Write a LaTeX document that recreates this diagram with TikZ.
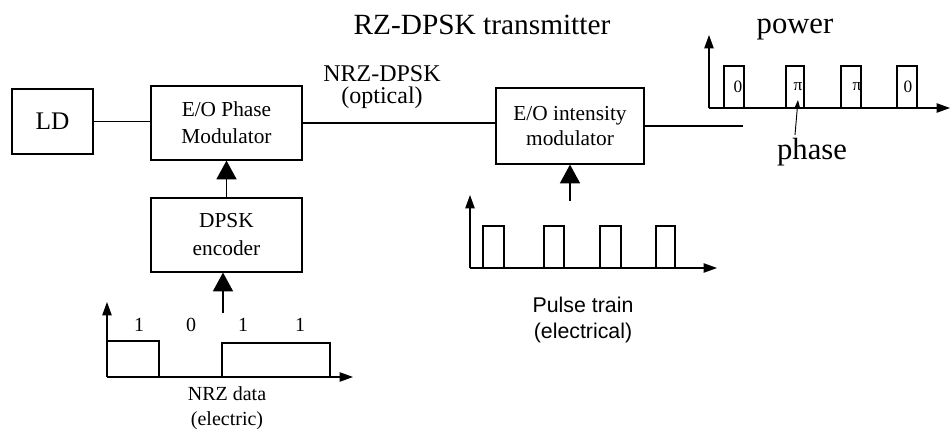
\documentclass[tikz,border=0pt]{standalone}
\usepackage{fontspec}
\setmainfont{Liberation Serif}
\newfontfamily\arialfont{Liberation Sans}
\usetikzlibrary{arrows.meta}
\begin{document}
\begin{tikzpicture}[x=0.75pt,y=-0.75pt,line join=miter,line width=0.9pt]
	\tikzset{blockbox/.style={draw,align=center,inner sep=1pt,font=\fontsize{16}{20}\selectfont},
		bigarrow/.style={-{Triangle[width=15pt,length=14pt]}},
		axisarrow/.style={-{Triangle[width=7pt,length=10pt]}},
		lab/.style={font=\fontsize{15}{19}\selectfont,align=center}}
	\useasboundingbox (0,0) rectangle (951,432);
	% Title
	\node[font=\fontsize{22}{24}\selectfont] (title) at (482,25) {RZ-DPSK transmitter};
	% Blocks
	\node[blockbox,minimum width=60.75pt,minimum height=48.75pt,font=\fontsize{19}{20}\selectfont] (ld) at (52.5,121.5) {LD};
	\node[blockbox,minimum width=113.25pt,minimum height=55.5pt] (pm) at (226.5,123) {E/O Phase\\Modulator};
	\node[blockbox,minimum width=113.25pt,minimum height=55.5pt,font=\fontsize{16}{21}\selectfont] (enc) at (226.5,235) {DPSK\\encoder};
	\node[blockbox,minimum width=111pt,minimum height=57pt,font=\fontsize{16}{19}\selectfont] (im) at (570,126) {E/O intensity\\modulator};
	% Connections
	\draw (ld.east) -- (ld.east -| pm.west);
	\draw (pm.east) -- (pm.east -| im.west);
	\coordinate (imout) at (743,127);
	\draw (im.east) -- (im.east -| imout);
	\node[font=\fontsize{18}{17}\selectfont,align=center] (nrzdpsk) at (382,87) {NRZ-DPSK\\(optical)};
	\draw[bigarrow] (enc.north) -- (pm.south);
	\coordinate (nrzin) at (223,313);
	\draw[bigarrow] (nrzin) -- (nrzin |- enc.south);
	\coordinate (ptin) at (570,201);
	\draw[bigarrow] (ptin) -- (ptin |- im.south);
	% NRZ data (electric)
	\draw[axisarrow] (107,377) -- (107,302);
	\draw[axisarrow] (107,377) -- (353,377);
	\draw (107,341) -- (159,341) -- (159,377);
	\draw (222,377) -- (222,343) -- (330,343) -- (330,377);
	\foreach \lx/\bit in {139/1,191/0,243/1,300/1}
		\node[font=\fontsize{15}{18}\selectfont] at (\lx,325) {\bit};
	\node[lab] (nrzlab) at (227,408) {NRZ data\\(electric)};
	% Pulse train (electrical)
	\draw[axisarrow] (470,268) -- (470,195);
	\draw[axisarrow] (470,268) -- (717,268);
	\foreach \a/\b in {483/504,544/564,600/621,656/675}
		\draw (\a,268) -- (\a,226) -- (\b,226) -- (\b,268);
	\node[lab,font=\arialfont\fontsize{16}{19.5}\selectfont] (ptlab) at (583,320) {Pulse train\\(electrical)};
	% RZ-DPSK output: power and phase
	\draw[axisarrow] (709,108) -- (709,35);
	\draw[axisarrow] (709,108) -- (950,108);
	\foreach \a/\b/\ph/\lx in {724/744/0/738,786/804/π/798,841/861/π/857,897/917/0/908}{
		\draw (\a,108) -- (\a,66) -- (\b,66) -- (\b,108);
		\node[font=\fontsize{13}{14}\selectfont,inner sep=0pt] at (\lx,87) {\ph};
	}
	\node[font=\fontsize{23}{24}\selectfont] (power) at (795,30) {power};
	\node[font=\fontsize{23}{24}\selectfont] (phase) at (812,152) {phase};
	\coordinate (phtail) at (795,135);
	\coordinate (phtip) at (798,100);
	\draw[-{Triangle[width=4pt,length=6pt]},line width=0.7pt] (phtail) -- (phtip);
\end{tikzpicture}
\end{document}
